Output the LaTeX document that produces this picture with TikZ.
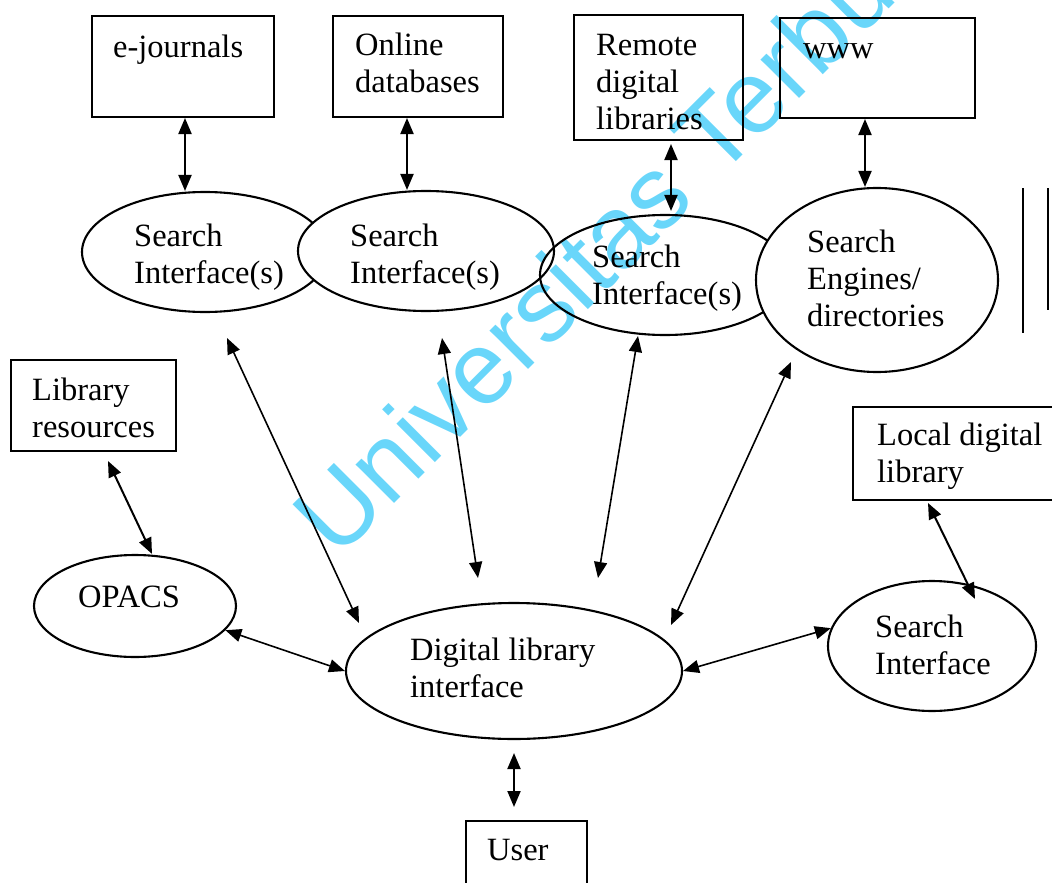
\documentclass[tikz,border=0pt]{standalone}
\usepackage{fontspec}
\setmainfont{Liberation Serif}
\newfontfamily\wmfont{Liberation Sans}
\usetikzlibrary{shapes.geometric,arrows.meta}
\definecolor{wmcyan}{RGB}{105,214,250}
\begin{document}
\begin{tikzpicture}[x=1pt,y=-1pt,
  box/.style={draw, line width=2pt, inner sep=0pt, rectangle},
  ell/.style={draw, ellipse, line width=2.1pt, inner sep=0pt},
  txt/.style={anchor=north west, inner sep=0pt, align=left, font=\fontsize{32.5}{37}\selectfont},
  dbl/.style={line width=2pt, {Triangle[length=16pt,width=13pt]}-{Triangle[length=16pt,width=13pt]}},
  dbllong/.style={line width=1.6pt, {Triangle[length=16pt,width=13pt]}-{Triangle[length=16pt,width=13pt]}},
  wm/.style={anchor=base west, inner sep=0pt, rotate=45, text=wmcyan, font=\wmfont\fontsize{103}{103}\selectfont}]
\path[use as bounding box] (0,0) rectangle (1052,883);

% ellipses that sit under the watermark
\node[ell, fill=white, minimum width=246pt, minimum height=120pt] (si1) at (205,252) {};
\node[ell, fill=white, minimum width=256pt, minimum height=120pt] (si2) at (426,251) {};

% watermark
\node[wm] (wmark) at (337,561) {Universitas Terbuka};

% remaining ellipses
\node[ell, minimum width=250pt, minimum height=120pt] (si3) at (665,275) {};
\node[ell, fill=white, minimum width=242pt, minimum height=184pt] (se) at (877,280) {};
\node[ell, minimum width=202pt, minimum height=102pt] (opacs) at (135,606) {};
\node[ell, minimum width=336pt, minimum height=136pt] (dli) at (514,671) {};
\node[ell, minimum width=208pt, minimum height=130pt] (sil) at (932,646) {};

% boxes
\node[box, minimum width=182pt, minimum height=101pt] (ej) at (183,66.5) {};
\node[box, minimum width=170pt, minimum height=101pt] (on) at (418,66.5) {};
\node[box, minimum width=169pt, minimum height=125pt] (rem) at (658.5,77.5) {};
\node[box, minimum width=195pt, minimum height=100pt] (www) at (877.5,68) {};
\node[box, minimum width=165pt, minimum height=91pt] (lib) at (93.5,405.5) {};
\node[box, minimum width=219pt, minimum height=93pt] (loc) at (962.5,453.5) {};
\node[box, minimum width=121pt, minimum height=79pt] (user) at (526.5,860.5) {};

% texts
\node[txt] (ejt) at (113,31.1) {\strut e-journals};
\node[txt] (ont) at (355,29.1) {\strut Online\\\strut databases};
\node[txt] (remt) at (596,29.1) {\strut Remote\\\strut digital\\\strut libraries};
\node[txt] (wwwt) at (803,32.1) {\strut www};
\node[txt] (si1t) at (134,220.1) {\strut Search\\\strut Interface(s)};
\node[txt] (si2t) at (350,220.1) {\strut Search\\\strut Interface(s)};
\node[txt] (si3t) at (592,241.1) {\strut Search\\\strut Interface(s)};
\node[txt] (set) at (807,226.1) {\strut Search\\\strut Engines/\\\strut directories};
\node[txt] (libt) at (32,374.1) {\strut Library\\\strut resources};
\node[txt] (opacst) at (78,581.1) {\strut OPACS};
\node[txt] (loct) at (877,419.1) {\strut Local digital\\\strut library};
\node[txt] (silt) at (875,611.1) {\strut Search\\\strut Interface};
\node[txt] (dlit) at (410,634.1) {\strut Digital library\\\strut interface};
\node[txt] (usert) at (487,834.1) {\strut User};

% short connectors
\draw[dbl] ([xshift=2pt]ej.south) -- ([xshift=-20pt]si1.north);
\draw[dbl] ([xshift=-11pt]on.south) -- ([xshift=-19pt]si2.north);
\draw[dbl] ([xshift=12.5pt,yshift=-3pt]rem.south) -- ([xshift=6pt,yshift=3pt]si3.north);
\draw[dbl] ([xshift=-12.5pt]www.south) -- ([xshift=-12pt]se.north);
\draw[dbl] ([xshift=14.5pt,yshift=-9pt]lib.south) -- ([xshift=17pt]opacs.north);
\draw[dbl] ([xshift=-34.5pt,yshift=-2pt]loc.south) -- ([xshift=43pt,yshift=-19pt]sil.north);
\draw[dbl] ([yshift=-13pt]dli.south) -- ([xshift=-12.5pt,yshift=13pt]user.north);
\draw[dbllong] (opacs.-15) -- (dli.west);
\draw[dbllong] (dli.east) -- (sil.170);

% long connectors with free ends
\coordinate (la1) at (227,338); \coordinate (la2) at (359,623);
\coordinate (lb1) at (442,338); \coordinate (lb2) at (478,578);
\coordinate (lc1) at (638,336); \coordinate (lc2) at (598,578);
\coordinate (ld1) at (791,362); \coordinate (ld2) at (671,625);
\draw[dbllong] (la1) -- (la2);
\draw[dbllong] (lb1) -- (lb2);
\draw[dbllong] (lc1) -- (lc2);
\draw[dbllong] (ld1) -- (ld2);

% vertical bars at the right edge
\draw[line width=2pt] (1023,188) -- (1023,333);
\draw[line width=2pt] (1048,188) -- (1048,310);
\end{tikzpicture}
\end{document}
